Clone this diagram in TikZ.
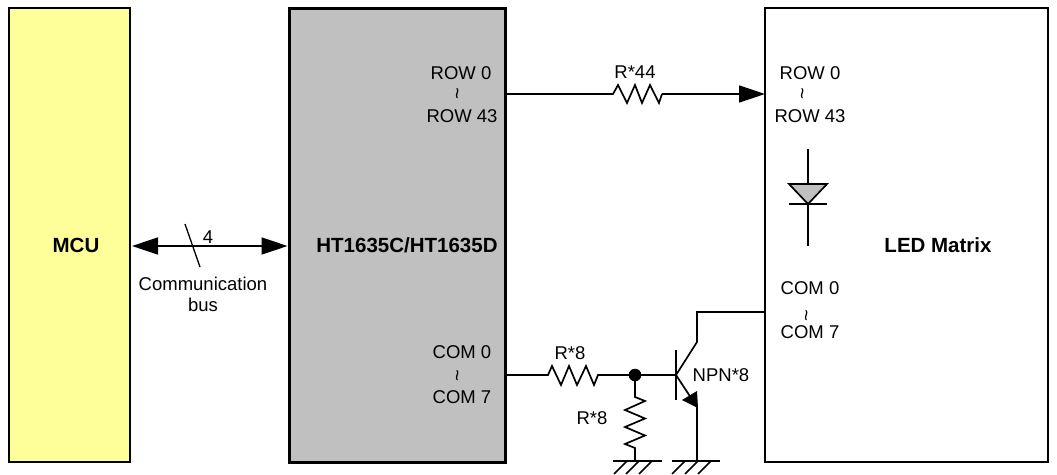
\documentclass[tikz,border=0pt]{standalone}
\usepackage{fontspec}
\setmainfont{Liberation Sans}
\usetikzlibrary{arrows.meta,calc}
\definecolor{mcuyellow}{RGB}{255,255,153}
\definecolor{icgray}{RGB}{192,192,192}
\tikzset{
  block/.style={draw=black,line width=2pt,inner sep=0pt,outer sep=0pt,anchor=north west},
  title/.style={font=\fontsize{20.5}{22}\selectfont\bfseries,inner sep=0pt,anchor=base},
  lab/.style={font=\fontsize{18.5}{20}\selectfont,inner sep=0pt,anchor=base},
  wavy/.style={font=\fontsize{20}{20}\selectfont,inner sep=0pt,rotate=90},
  wire/.style={line width=1.7pt,line join=miter},
  thin wire/.style={line width=1.3pt},
  bigarrow/.style={-{Triangle[length=26pt,width=17pt]}},
  bothway/.style={{Triangle[length=26pt,width=17pt]}-{Triangle[length=26pt,width=17pt]}},
}
\begin{document}
\begin{tikzpicture}[x=1pt,y=-1pt]
\useasboundingbox (0,0) rectangle (1057,474);
% blocks
\node[block,fill=mcuyellow,minimum width=121pt,minimum height=454pt] (mcu) at (9,8) {};
\node[block,line width=3pt,fill=icgray,minimum width=215.5pt,minimum height=454pt] (ht) at (289.5,8) {};
\node[block,fill=white,minimum width=283pt,minimum height=454pt] (led) at (765,8) {};
\node[title] (mcut) at (76,252) {MCU};
\node[title] (htt) at (407,252) {HT1635C/HT1635D};
\node[title] (ledt) at (938,252) {LED Matrix};
% labels
\node[lab] (hr0) at (461,79) {ROW 0};
\node[wavy] (hrt) at (460,94) {\textasciitilde};
\node[lab] (hr43) at (462,122) {ROW 43};
\node[lab] (hc0) at (462,358) {COM 0};
\node[wavy] (hct) at (460,376) {\textasciitilde};
\node[lab] (hc7) at (462,403) {COM 7};
\node[lab] (lr0) at (810,79) {ROW 0};
\node[wavy] (lrt) at (805,94) {\textasciitilde};
\node[lab] (lr43) at (810,122) {ROW 43};
\node[lab] (lc0) at (810,294) {COM 0};
\node[wavy] (lct) at (809,316) {\textasciitilde};
\node[lab] (lc7) at (810,338) {COM 7};
\node[lab] (rl1) at (635,78) {R*44};
\node[lab] (rl2) at (570,359) {R*8};
\node[lab] (rl3) at (592,424) {R*8};
\node[lab] (npn) at (721,381) {NPN*8};
\node[lab] (four) at (208,243) {4};
\node[lab] (comm) at (203,290) {Communication};
\node[lab] (bus) at (203,311) {bus};
% bus
\coordinate (busY) at (210,246);
\coordinate (slashA) at (185,224);
\coordinate (slashB) at (200,267);
\draw[wire,bothway] ($(mcu.east |- busY)+(2,0)$) -- ($(ht.west |- busY)+(-2,0)$);
\draw[thin wire] (slashA) -- (slashB);
% row line
\coordinate (rowR) at (613,94);
\coordinate (rowS) at (662,94);
\coordinate (rowL) at (ht.east |- rowR);
\coordinate (rowE) at (led.west |- rowR);
\draw[wire] (rowL) -- (rowR) -- (618,85) -- (627,103) -- (635,85) -- (642,103) -- (650,85) -- (659,103) -- (rowS);
\draw[wire,bigarrow] (rowS) -- (rowE);
% com line
\coordinate (comA) at (548,375);
\coordinate (comB) at (598,375);
\coordinate (comL) at (ht.east |- comA);
\coordinate (junc) at (635,375);
\coordinate (base) at (676,375);
\draw[wire] (comL) -- (comA) -- (552,366) -- (561,385) -- (569,366) -- (577,385) -- (586,366) -- (594,385) -- (comB) -- (junc) -- (base);
\fill (junc) circle (6.3pt);
% pull-down
\coordinate (gndA) at (635,461);
\draw[wire] (junc) -- (635,397) -- (645,401) -- (625,410) -- (645,418.5) -- (625,427) -- (645,435.5) -- (625,444) -- (635,448) -- (gndA);
\draw[wire] (613,461) -- (662,461);
\foreach \x in {627,639,652} \draw[wire] (\x,461) -- ++(-13,13);
% transistor
\coordinate (collA) at (697,342);
\coordinate (collB) at (697,312);
\coordinate (collE) at (led.west |- collB);
\coordinate (emit) at (697,407);
\coordinate (gndB) at (697,461);
\draw[wire] (676,350) -- (676,400);
\draw[wire] (base) -- (collA) -- (collB) -- (collE);
\draw[wire] (base) -- (emit);
\fill (698,408) -- (697,391) -- (682,400) -- cycle;
\draw[wire] (emit) -- (gndB);
\draw[wire] (672,461) -- (720,461);
\foreach \x in {685,698,711} \draw[wire] (\x,461) -- ++(-13,13);
% diode
\coordinate (dT) at (808,149);
\coordinate (dB) at (808,246);
\draw[wire] (dT) -- (dB);
\draw[wire,fill=icgray] (789,184) -- (827,184) -- (808,204) -- cycle;
\draw[wire] (789,204) -- (827,204);
\end{tikzpicture}
\end{document}
